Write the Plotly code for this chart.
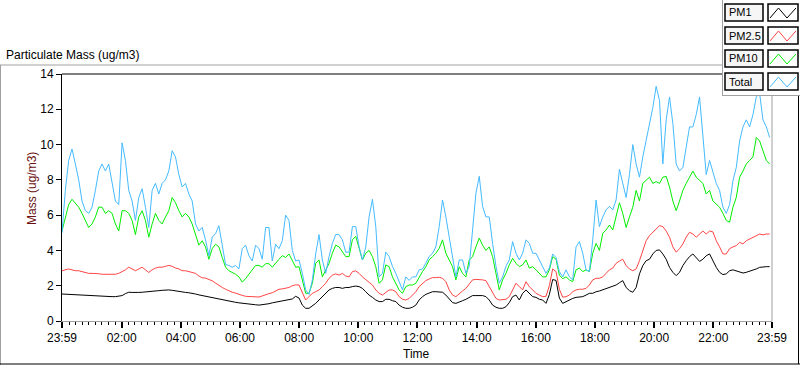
import numpy as np
import plotly.graph_objects as go

# ---------------- data ----------------
SAMPLE_MINUTES = 6.77  # spacing of the read-off samples, minutes after 23:59

PM1 = [1.53, 1.52, 1.5, 1.48, 1.46, 1.44, 1.44, 1.43, 1.42, 1.42, 1.4, 1.4, 1.39, 1.38, 1.38, 1.38, 1.38, 1.4, 1.44, 1.55,
       1.63, 1.62, 1.6, 1.62, 1.63, 1.64, 1.65, 1.67, 1.7, 1.72, 1.74, 1.76, 1.76, 1.74, 1.7, 1.66, 1.63, 1.62, 1.6, 1.58,
       1.53, 1.48, 1.44,
       1.42, 1.38, 1.34, 1.3, 1.25, 1.2, 1.15, 1.1, 1.08, 1.06, 1.03, 1.0, 0.98, 0.95, 0.93, 0.92, 0.9, 0.92, 0.95, 0.98,
       1.03, 1.06, 1.1, 1.13, 1.15, 1.18, 1.25, 1.4,
       1.3, 0.9, 0.72, 0.72, 0.85, 1.0, 1.19, 1.38, 1.57, 1.76, 1.85, 1.9, 1.9, 1.85, 1.9, 1.9, 1.95, 1.98, 1.95, 1.85,
       1.66, 1.47, 1.34, 1.19, 1.1, 1.1, 1.23, 1.23, 1.15, 1.1, 0.9, 0.78, 0.72, 0.72, 0.78, 0.9, 1.19, 1.38, 1.51, 1.6,
       1.66, 1.66, 1.66, 1.63, 1.47, 1.23, 1.04, 1.0, 1.06, 1.15, 1.23, 1.34, 1.44, 1.44, 1.44, 1.44, 1.38, 1.19, 0.9, 0.78,
       0.72, 0.72, 0.81, 1.04, 1.38, 1.47, 1.19, 1.57, 1.76, 1.57, 1.38, 1.34, 1.23, 1.19, 1.0,
       1.5, 2.35, 2.3, 1.3, 1.0, 1.1, 1.19, 1.28, 1.34, 1.34, 1.38, 1.47, 1.57, 1.57, 1.66, 1.7, 1.76, 1.85, 1.89, 1.95,
       2.04, 2.17,
       2.29, 1.9, 1.72, 1.63, 1.9, 2.67, 3.14, 3.42, 3.5, 3.8, 4.0, 4.03, 3.8, 3.5, 3.04, 2.76, 2.57, 2.76, 3.14, 3.42,
       3.65, 3.8, 3.6, 3.38, 3.5, 3.7, 3.8, 3.42, 3.04, 2.76, 2.63, 2.67, 2.85, 2.9, 2.85, 2.8, 2.72, 2.76, 2.82, 2.85,
       2.95, 3.04, 3.08, 3.08, 3.08]

PM25 = [2.85, 2.9, 2.95, 2.9, 2.85, 2.85, 2.8, 2.75, 2.7, 2.7, 2.7, 2.68, 2.65, 2.65, 2.65, 2.65, 2.65, 2.7, 2.8, 2.9,
        3.05, 2.95, 2.85, 2.95, 3.05, 2.9, 2.75, 2.9, 3.0, 3.05, 3.05, 3.1, 3.15, 3.1, 3.0, 2.95, 2.85, 2.85, 2.8, 2.75,
        2.7, 2.55, 2.45,
        2.43, 2.35, 2.28, 2.15, 2.0, 1.9, 1.8, 1.7, 1.63, 1.58, 1.5, 1.45, 1.4, 1.38, 1.36, 1.35, 1.36, 1.42, 1.5, 1.55,
        1.6, 1.7, 1.8, 1.82, 1.85, 1.9, 2.0, 2.05,
        2.04, 1.57, 1.19, 1.38, 1.57, 1.66, 1.76, 1.95, 2.14, 2.42, 2.6, 2.67, 2.6, 2.7, 2.55, 2.5, 2.8, 2.84, 2.7, 2.5,
        2.33, 2.17, 2.04, 1.76, 1.57, 1.47, 1.6, 1.76, 1.76, 1.66, 1.38, 1.23, 1.19, 1.28, 1.47, 1.66, 1.95, 2.14, 2.29, 2.38,
        2.46, 2.46, 2.48, 2.42, 2.23, 1.76, 1.47, 1.38, 1.57, 1.7, 1.85, 2.1, 2.33, 2.36, 2.36, 2.33, 2.29, 1.95, 1.57, 1.28,
        1.19, 1.19, 1.23, 1.38, 1.76, 2.14, 1.95, 1.76, 2.23, 1.95, 1.76, 1.57, 1.47, 1.38, 1.4,
        2.0, 2.95, 2.8, 1.8, 1.35, 1.38, 1.47, 1.66, 1.76, 1.8, 1.8, 1.85, 2.04, 2.33, 2.42, 2.42, 2.5, 2.7, 2.9, 3.0,
        3.27, 3.4,
        3.5, 3.14, 2.95, 2.85, 2.95, 3.42, 4.0, 4.55, 4.84, 5.03, 5.2, 5.4, 5.35, 5.1, 4.75, 4.2, 3.9, 4.1, 4.37, 4.75,
        5.03, 4.93, 4.75, 4.93, 5.1, 4.93, 5.1, 5.05, 4.55, 4.2, 3.8, 3.8, 4.1, 4.2, 4.27, 4.46, 4.37, 4.55, 4.65, 4.75,
        4.84, 4.93, 4.88, 4.93, 4.93]

PM10 = [5.1, 5.9, 6.6, 6.9, 6.7, 6.45, 6.1, 5.7, 5.3, 5.5, 5.9, 6.45, 6.45, 6.1, 6.25, 6.1, 5.5, 5.1, 6.25, 6.25,
        6.1, 5.7, 4.9, 5.9, 6.25, 5.7, 4.75, 5.5, 6.1, 5.7, 5.5, 5.9, 6.25, 7.0, 6.7, 6.25, 5.9, 6.1, 5.9, 5.5,
        4.9, 4.3, 4.55,
        4.2, 3.5, 4.1, 4.35, 4.2, 3.6, 3.05, 2.85, 2.75, 2.65, 2.5, 2.2, 2.4, 2.65, 2.85, 3.15, 3.15, 3.05, 3.25, 3.25,
        3.05, 3.3, 3.5, 3.7, 3.6, 3.8, 3.4, 3.05,
        3.08, 2.33, 1.57, 1.57, 2.14, 3.27, 3.46, 2.5, 2.9, 3.27, 3.84, 4.3, 4.2, 3.93, 3.65, 3.65, 4.6, 4.8, 4.2, 3.46,
        3.84, 4.0, 3.65, 3.08, 2.14, 2.33, 3.18, 3.08, 2.5, 2.14, 1.76, 1.57, 1.95, 2.04, 2.04, 2.14, 2.5, 2.8, 3.08, 3.46,
        3.65, 3.84, 4.12, 4.6, 3.84, 3.46, 3.08, 2.33, 3.08, 2.7, 2.5, 3.46, 3.65, 4.2, 4.7, 4.3, 4.0, 4.2, 3.65, 2.7,
        1.76, 2.33, 2.7, 3.18, 3.55, 3.27, 3.08, 3.18, 3.46, 3.0, 3.08, 2.9, 2.7, 2.5, 2.5,
        2.9, 3.65, 3.5, 2.6, 2.4, 2.5, 2.33, 2.23, 2.9, 3.0, 2.8, 2.9, 2.8, 3.84, 4.4, 4.0, 4.97, 5.16, 5.44, 5.16,
        5.9, 6.7,
        6.1, 5.3, 5.9, 6.45, 7.4, 6.8, 7.8, 7.95, 8.15, 7.8, 7.9, 7.8, 8.15, 8.2, 7.6, 6.8, 6.25, 6.8, 7.4, 7.8,
        8.15, 8.5, 8.15, 7.95, 7.8, 7.2, 7.4, 6.8, 6.6, 6.45, 6.1, 5.7, 5.6, 6.45, 7.0, 8.15, 8.5, 8.9, 9.1, 9.3,
        10.4, 10.2, 9.65, 9.1, 8.9]

TOTAL = [5.0, 7.4, 9.1, 9.75, 8.9, 8.0, 6.8, 6.25, 6.1, 6.45, 7.4, 8.5, 8.9, 8.5, 8.9, 7.8, 6.8, 6.6, 10.1, 9.1,
         7.4, 6.8, 5.7, 7.0, 7.5, 6.45, 5.3, 7.4, 7.8, 7.2, 7.8, 8.0, 8.5, 9.65, 9.3, 8.3, 7.6, 7.8, 7.2, 6.8,
         5.5, 5.1, 5.3,
         4.6, 3.7, 4.75, 4.95, 5.4, 4.2, 3.2, 3.15, 3.05, 3.15, 2.95, 4.1, 4.3, 3.7, 3.4, 4.3, 4.1, 3.5, 5.3, 5.3,
         3.4, 4.35, 4.1, 4.55, 6.0, 5.7, 4.0, 3.4,
         3.46, 2.7, 1.76, 1.5, 2.32, 3.8, 4.9, 3.46, 2.7, 3.65, 4.4, 4.9, 4.9, 4.6, 3.9, 3.9, 5.35, 5.35, 4.2, 3.46,
         4.2, 5.9, 6.9, 5.35, 2.5, 2.7, 3.9, 3.65, 3.1, 2.7, 2.2, 1.76, 2.5, 2.3, 2.5, 2.5, 2.9, 2.95, 3.27, 3.65,
         3.84, 4.2, 5.35, 6.86, 5.9, 4.8, 3.46, 2.5, 3.46, 3.46, 2.7, 3.1, 5.16, 7.24, 8.2, 6.5, 5.9, 5.9, 4.4, 3.1,
         2.14, 2.5, 3.1, 3.46, 4.5, 3.84, 3.46, 3.84, 4.6, 4.4, 3.84, 3.84, 3.46, 3.1, 2.7,
         3.0, 3.8, 3.6, 2.8, 2.5, 2.9, 2.5, 2.33, 4.2, 4.5, 3.84, 2.9, 2.8, 4.6, 6.86, 5.35, 5.9, 6.3, 6.5, 6.3,
         6.86, 8.6,
         7.8, 7.0, 8.3, 10.0, 8.9, 8.15, 9.3, 10.2, 11.2, 12.1, 13.3, 12.5, 8.9, 11.4, 12.7, 11.2, 8.9, 8.5, 8.7, 9.85,
         11.0, 11.0, 11.7, 12.7, 10.6, 8.3, 9.1, 8.5, 7.8, 7.4, 6.45, 6.1, 6.6, 7.95, 8.7, 10.2, 11.0, 11.4, 11.0, 11.7,
         12.7, 12.9, 11.4, 11.0, 10.4]

X_TICK_MINUTES = [0, 121, 241, 361, 481, 601, 721, 841, 961, 1081, 1201, 1321, 1440]
X_TICK_LABELS = ["23:59", "02:00", "04:00", "06:00", "08:00", "10:00", "12:00",
                 "14:00", "16:00", "18:00", "20:00", "22:00", "23:59"]
Y_TICKS = [0, 2, 4, 6, 8, 10, 12, 14]

SERIES_NAMES = ["PM1", "PM2.5", "PM10", "Total"]
SERIES_COLORS = ["#000000", "#ff4444", "#00ee00", "#44bbff"]

# ---------------- figure ----------------
W, H = 800, 365
L, R, T, B = 62, 772, 74, 321  # plot area in pixels
FONT = "Liberation Sans"


def px(xp):
    return (xp - L) / (R - L)


def py(yp):
    return (B - yp) / (B - T)


times = np.arange(len(TOTAL)) * SAMPLE_MINUTES

fig = go.Figure()
for name, vals, col in zip(SERIES_NAMES, [PM1, PM25, PM10, TOTAL], SERIES_COLORS):
    fig.add_trace(go.Scatter(x=times, y=vals, mode="lines", name=name,
                             line=dict(color=col, width=1), showlegend=False,
                             hoverinfo="skip"))

shapes = []


def line(x0, y0, x1, y1, color, width=1, layer="above"):
    shapes.append(dict(type="line", xref="paper", yref="paper",
                       x0=px(x0), y0=py(y0), x1=px(x1), y1=py(y1),
                       line=dict(color=color, width=width), layer=layer))


# outer frame and header separator
line(0.5, 65, 0.5, 365, "#a0a0a0")
line(0, 65, 722, 65, "#a0a0a0")
line(0, 364, 800, 364, "#000000")
line(798.5, 95, 798.5, 364, "#000000")
# plot-area frame (top black, right grey)
line(L, T, 722, T, "#000000")
line(R, T - 9, R, B, "#a0a0a0")

# legend panel
shapes.append(dict(type="rect", xref="paper", yref="paper",
                   x0=px(722), y0=py(95), x1=px(800), y1=py(0),
                   fillcolor="#ffffff", line=dict(width=0), layer="above"))
line(722.5, 0, 722.5, 95, "#a0a0a0")
line(722, 95.5, 800, 95.5, "#a0a0a0")

annotations = []
item_tops = [4, 27, 50, 73]
for name, col, top in zip(SERIES_NAMES, SERIES_COLORS, item_tops):
    bot = top + 17
    shapes.append(dict(type="rect", xref="paper", yref="paper",
                       x0=px(725), y0=py(bot), x1=px(763), y1=py(top),
                       fillcolor="#f6f6f6", line=dict(color="#000000", width=1.5),
                       layer="above"))
    shapes.append(dict(type="rect", xref="paper", yref="paper",
                       x0=px(768), y0=py(bot), x1=px(798), y1=py(top),
                       fillcolor="#ffffff", line=dict(color="#000000", width=1.5),
                       layer="above"))
    path = "M {:.5f},{:.5f} L {:.5f},{:.5f} L {:.5f},{:.5f} L {:.5f},{:.5f}".format(
        px(770), py(bot - 3), px(778.5), py(top + 4), px(787), py(bot - 3), px(796), py(top + 4))
    shapes.append(dict(type="path", xref="paper", yref="paper", path=path,
                       line=dict(color=col, width=1), layer="above"))
    annotations.append(dict(xref="paper", yref="paper", x=px(727), y=py(top + 8.5),
                            xanchor="left", yanchor="middle", showarrow=False,
                            text=name, font=dict(family=FONT, size=11, color="#000000")))

# titles
annotations.append(dict(xref="paper", yref="paper", x=px(4), y=py(55), xanchor="left",
                        yanchor="middle", showarrow=False, text="Particulate Mass (ug/m3)",
                        font=dict(family=FONT, size=12, color="#000000")))
annotations.append(dict(xref="paper", yref="paper", x=px(416), y=py(354), xanchor="center",
                        yanchor="middle", showarrow=False, text="Time",
                        font=dict(family=FONT, size=12, color="#000000")))
annotations.append(dict(xref="paper", yref="paper", x=px(32), y=py(189), xanchor="center",
                        yanchor="middle", showarrow=False, text="Mass (ug/m3)", textangle=-90,
                        font=dict(family=FONT, size=12, color="#6b0f0f")))

fig.update_layout(
    width=W, height=H,
    margin=dict(l=L, r=W - R, t=T, b=H - B),
    paper_bgcolor="#ffffff", plot_bgcolor="#ffffff",
    font=dict(family=FONT, size=12, color="#000000"),
    showlegend=False,
    shapes=shapes, annotations=annotations,
    xaxis=dict(range=[0, 1440], tickmode="array", tickvals=X_TICK_MINUTES, ticktext=X_TICK_LABELS,
               ticks="outside", ticklen=6, tickwidth=2, tickcolor="#000000",
               showline=True, linecolor="#a0a0a0", linewidth=1,
               showgrid=False, zeroline=False,
               tickfont=dict(family=FONT, size=12, color="#000000"),
               minor=dict(tickmode="linear", tick0=1, dtick=120 / 9, ticks="outside",
                          ticklen=3, tickwidth=1, tickcolor="#000000", showgrid=False)),
    yaxis=dict(range=[0, 14], tickmode="array", tickvals=Y_TICKS,
               ticks="outside", ticklen=5, tickwidth=1, tickcolor="#000000",
               showline=True, linecolor="#000000", linewidth=1,
               showgrid=False, zeroline=False,
               tickfont=dict(family=FONT, size=12, color="#000000")),
)

fig.write_html("out.html", config={"displayModeBar": False},
               post_script="document.body.style.margin='0px';document.body.style.overflow='hidden';")
